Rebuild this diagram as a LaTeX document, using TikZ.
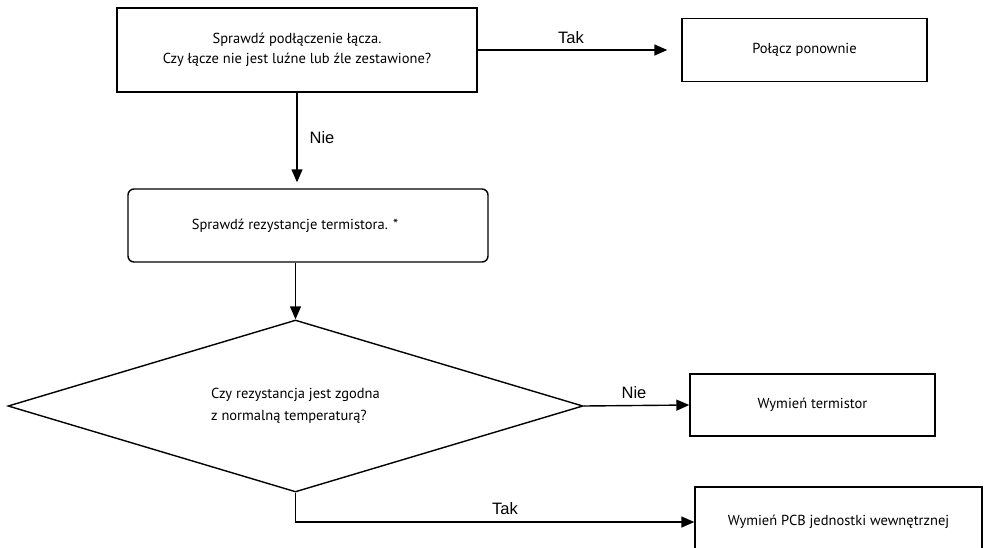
\documentclass[tikz,border=0pt]{standalone}
\usepackage{fontspec}
\setmainfont{PT Sans}
\newfontfamily\lblfont{Liberation Sans}
\usepackage{tikz}
\usetikzlibrary{shapes.geometric,arrows.meta,positioning}

\begin{document}
\begin{tikzpicture}[x=1pt,y=-1pt,>={Triangle[length=13pt,width=11pt]},
  line width=1.4pt,
  boxnode/.style={draw,rectangle,inner sep=0pt,font=\fontsize{14.5}{20.5}\selectfont,align=center},
  lbl/.style={font=\lblfont\fontsize{16.5}{18}\selectfont,inner sep=0pt}]
\useasboundingbox (0,0) rectangle (986,547);
% top row
\node[boxnode,minimum width=360pt,minimum height=84pt] (chk) at (297,50) {Sprawdź podłączenie łącza.\\Czy łącze nie jest luźne lub źle zestawione?};
\node[boxnode,minimum width=245pt,minimum height=63pt] (recon) at (804.5,50) {Połącz ponownie};
\draw[->,shorten >=14pt] (chk.east) -- (recon.west);
\node[lbl] (tak1) at (571,38) {Tak};
% thermistor
\node[boxnode,rounded corners=6pt,minimum width=360pt,minimum height=73pt] (res) at (308,225.5) {\hspace*{-26pt}Sprawdź rezystancje termistora. *};
\draw[->,shorten >=6pt] (chk.south) -- (chk.south |- res.north);
\node[lbl] (nie1) at (322,138) {Nie};
% decision
\node[draw,diamond,aspect=3.34,inner sep=0pt,minimum width=575pt,minimum height=172pt,
  font=\fontsize{14.5}{22}\selectfont,align=left] (dec) at (295.5,406) {Czy rezystancja jest zgodna\\z normalną temperaturą?};
\draw[->] (res.south -| dec.north) -- (dec.north);
\node[boxnode,minimum width=245pt,minimum height=62pt] (therm) at (812.5,405) {Wymień termistor};
\draw[->] (dec.east) -- (therm.west);
\node[lbl] (nie2) at (634,393) {Nie};
\node[boxnode,minimum width=287pt,minimum height=70pt] (pcb) at (838.5,522) {Wymień PCB jednostki wewnętrznej};
\draw[->] (dec.south) |- (pcb.west);
\node[lbl] (tak2) at (505,509) {Tak};
\end{tikzpicture}
\end{document}
